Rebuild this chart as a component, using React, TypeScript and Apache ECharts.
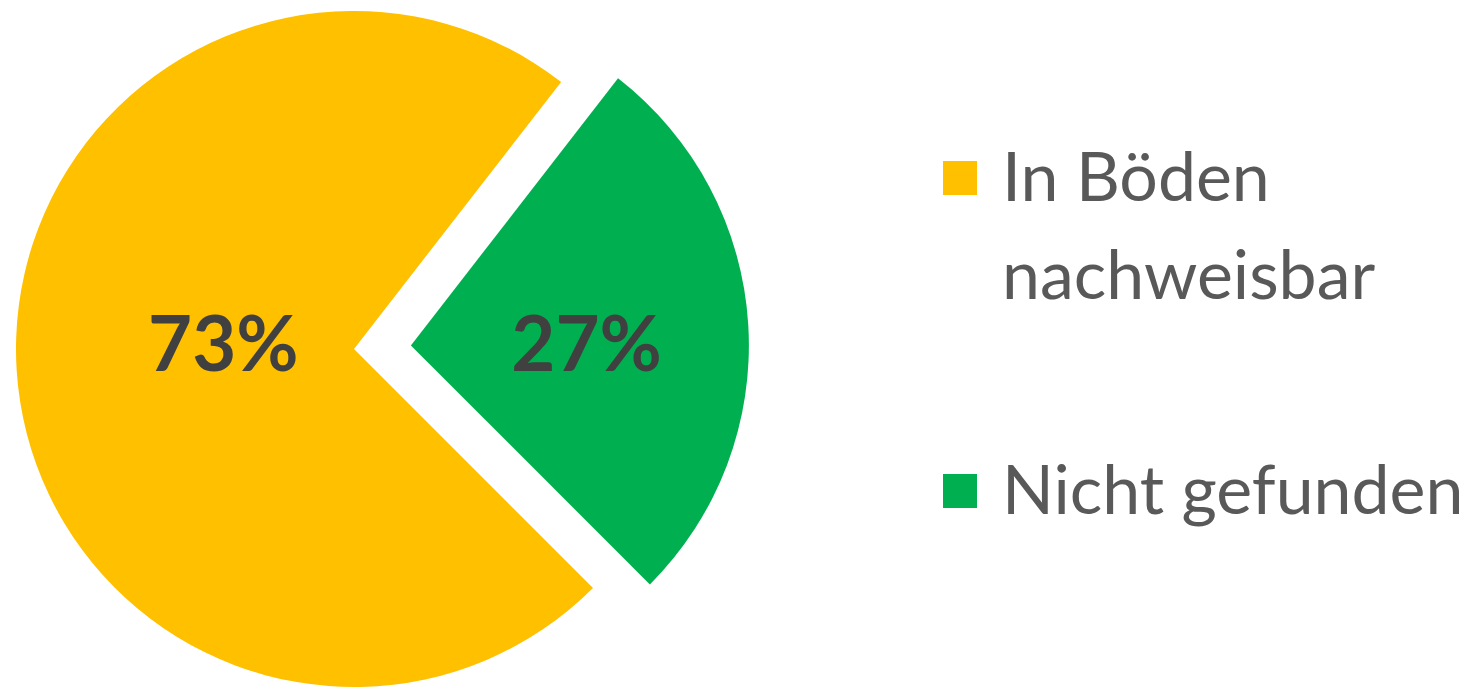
import React, { useEffect, useRef } from "react";
import * as echarts from "echarts";

const categories = ["In Böden\nnachweisbar", "Nicht gefunden"];
const values = [73, 27];
const colors = ["#FFC000", "#00B050"];

export default function App() {
  const ref = useRef<HTMLDivElement>(null);
  useEffect(() => {
    if (!ref.current) return;
    const chart = echarts.init(ref.current, null, { renderer: "svg" });
    const legendY = [178, 491];
    const graphic: any[] = [];
    categories.forEach((name, i) => {
      const lines = name.split("\n").length;
      graphic.push({
        type: "rect",
        left: 943,
        top: legendY[i] - 17,
        shape: { width: 34, height: 34 },
        style: { fill: colors[i] },
        silent: true,
      });
      graphic.push({
        type: "text",
        x: 1002,
        y: legendY[i] - 4 + ((lines - 1) * 98) / 2,
        style: {
          text: name,
          fill: "#595959",
          font: "68px Lato",
          lineHeight: 98,
          verticalAlign: "middle",
          align: "left",
        },
        silent: true,
      });
    });
    const labelShift = [
      { dx: 41, dy: -18 },
      { dx: 4, dy: 7 },
    ];
    chart.setOption({
      animation: false,
      graphic,
      series: [
        {
          type: "pie",
          center: [354, 349],
          radius: 338,
          startAngle: 315,
          clockwise: true,
          selectedMode: "single",
          selectedOffset: 57,
          emphasis: { disabled: true },
          label: {
            show: true,
            position: "inside",
            formatter: (p: any) => p.value + "%",
            color: "#404040",
            fontFamily: "Lato",
            fontWeight: "bold",
            fontSize: 76,
          },
          labelLine: { show: false },
          labelLayout: (p: any) => labelShift[p.dataIndex],
          data: categories.map((c, i) => ({
            name: c,
            value: values[i],
            selected: i === 1,
            itemStyle: { color: colors[i] },
          })),
        },
      ],
    });
    return () => chart.dispose();
  }, []);
  return (
    <div
      ref={ref}
      style={{ position: "fixed", left: 0, top: 0, width: 1478, height: 689, background: "#fff" }}
    />
  );
}
